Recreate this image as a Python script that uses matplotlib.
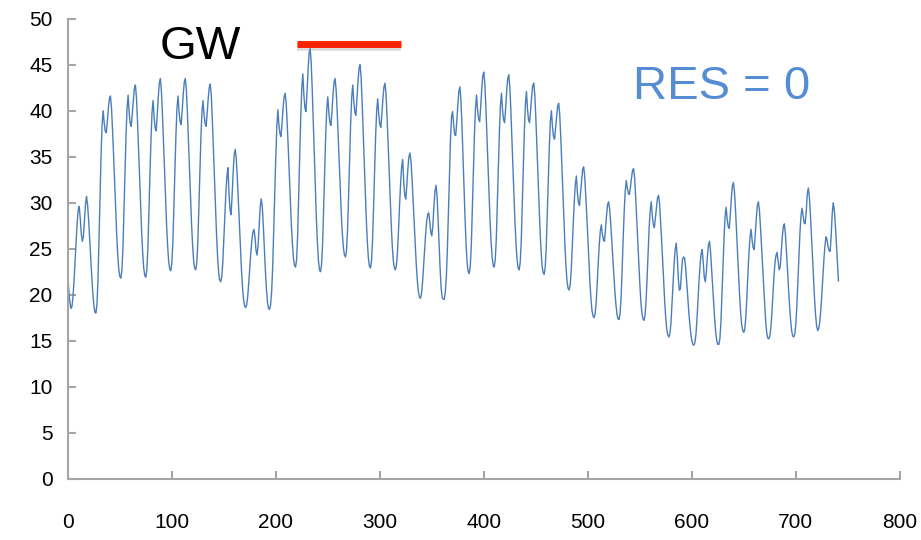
import matplotlib
matplotlib.use("Agg")
import matplotlib.pyplot as plt
import numpy as np

# Hourly values (GW), one row per day
gw_values = [
    22.1, 20.5, 19.2, 18.5, 18.7, 19.8, 21.5, 23.6, 25.8, 27.8, 29.2, 29.6, 28.3, 26.6, 25.8, 26.3, 28.0, 29.8, 30.7, 29.8, 28.2, 26.1, 24.1, 22.1,
    20.3, 18.9, 18.1, 18.0, 18.9, 21.5, 25.9, 30.8, 35.2, 38.5, 40.0, 38.7, 37.8, 37.6, 38.8, 40.2, 41.3, 41.6, 40.4, 38.0, 35.3, 32.3, 29.3, 26.6,
    24.4, 22.8, 22.0, 21.8, 22.6, 25.0, 29.0, 33.3, 37.3, 40.3, 41.7, 39.8, 38.6, 38.3, 39.7, 41.2, 42.4, 42.8, 41.5, 39.0, 36.1, 33.0, 29.8, 26.9,
    24.6, 22.9, 22.1, 21.9, 22.7, 25.0, 28.8, 33.0, 36.9, 39.8, 41.1, 39.3, 38.1, 37.8, 39.5, 41.5, 43.0, 43.5, 42.2, 39.7, 36.8, 33.7, 30.5, 27.6,
    25.3, 23.6, 22.8, 22.6, 23.4, 25.6, 29.4, 33.6, 37.4, 40.3, 41.6, 39.9, 38.8, 38.5, 40.0, 41.8, 43.1, 43.5, 42.3, 39.8, 36.8, 33.7, 30.6, 27.7,
    25.4, 23.7, 22.9, 22.7, 23.4, 25.6, 29.3, 33.4, 37.1, 39.8, 41.1, 39.6, 38.6, 38.3, 39.7, 41.3, 42.5, 42.9, 41.6, 39.0, 36.0, 32.8, 29.6, 26.6,
    24.2, 22.5, 21.6, 21.4, 21.9, 23.4, 25.9, 28.6, 31.1, 32.9, 33.8, 31.0, 29.2, 28.7, 30.8, 33.3, 35.2, 35.8, 34.8, 32.7, 30.3, 27.7, 25.1, 22.7,
    20.8, 19.5, 18.8, 18.6, 18.9, 19.8, 21.3, 23.0, 24.6, 25.9, 26.8, 27.1, 26.3, 24.8, 24.3, 25.4, 27.5, 29.5, 30.4, 29.6, 27.5, 25.0, 22.6, 20.6,
    19.2, 18.5, 18.4, 18.9, 20.3, 23.0, 26.8, 31.0, 35.0, 38.3, 40.1, 38.5, 37.5, 37.2, 38.6, 40.3, 41.5, 41.9, 40.8, 38.5, 35.9, 33.0, 30.2, 27.5,
    25.5, 23.9, 23.2, 23.0, 23.8, 26.4, 30.6, 35.2, 39.4, 42.5, 44.0, 41.7, 40.3, 39.9, 42.0, 44.4, 46.2, 46.8, 45.3, 42.4, 39.0, 35.4, 31.7, 28.3,
    25.7, 23.7, 22.7, 22.5, 23.3, 25.5, 29.3, 33.5, 37.3, 40.2, 41.5, 39.8, 38.7, 38.4, 39.9, 41.7, 43.1, 43.5, 42.3, 40.0, 37.3, 34.4, 31.5, 28.8,
    26.6, 25.1, 24.3, 24.1, 24.8, 27.1, 30.8, 34.9, 38.7, 41.5, 42.8, 41.0, 39.8, 39.5, 41.2, 43.1, 44.6, 45.0, 43.7, 41.0, 37.9, 34.6, 31.3, 28.2,
    25.8, 24.0, 23.1, 22.9, 23.6, 25.8, 29.5, 33.6, 37.3, 40.0, 41.3, 39.6, 38.5, 38.2, 39.6, 41.3, 42.6, 43.0, 41.8, 39.3, 36.5, 33.5, 30.4, 27.6,
    25.3, 23.7, 22.9, 22.7, 23.2, 24.6, 27.0, 29.7, 32.1, 33.9, 34.7, 32.3, 30.8, 30.4, 31.9, 33.7, 35.0, 35.4, 34.5, 32.6, 30.3, 28.0, 25.6, 23.4,
    21.7, 20.4, 19.8, 19.6, 20.0, 21.2, 22.9, 24.8, 26.5, 27.9, 28.7, 28.9, 28.0, 26.8, 26.4, 27.5, 29.5, 31.2, 31.9, 30.8, 28.3, 25.5, 22.8, 20.7,
    19.7, 19.5, 19.5, 20.3, 22.0, 25.0, 29.0, 33.3, 37.0, 39.4, 39.9, 38.5, 37.4, 37.3, 38.8, 40.6, 42.1, 42.6, 41.2, 38.4, 35.0, 31.5, 28.2, 25.4,
    23.4, 22.5, 22.3, 23.1, 25.4, 29.3, 33.6, 37.4, 40.3, 41.7, 40.1, 39.1, 38.8, 40.4, 42.3, 43.8, 44.2, 42.9, 40.4, 37.4, 34.2, 31.0, 28.1, 25.8,
    24.1, 23.2, 23.0, 23.8, 26.0, 29.8, 34.0, 37.7, 40.6, 41.9, 40.1, 39.0, 38.7, 40.3, 42.1, 43.5, 43.9, 42.6, 40.1, 37.1, 33.9, 30.7, 27.8, 25.5,
    23.8, 22.9, 22.7, 23.5, 25.8, 29.7, 34.0, 37.8, 40.7, 42.1, 40.2, 39.0, 38.7, 40.0, 41.5, 42.7, 43.0, 41.8, 39.3, 36.3, 33.2, 30.1, 27.2, 24.9,
    23.2, 22.4, 22.2, 22.9, 25.0, 28.6, 32.5, 36.1, 38.8, 40.0, 38.3, 37.2, 36.9, 38.1, 39.4, 40.5, 40.8, 39.6, 37.1, 34.3, 31.3, 28.2, 25.4, 23.1,
    21.5, 20.7, 20.5, 21.0, 22.5, 25.0, 27.7, 30.2, 32.0, 32.9, 31.1, 30.0, 29.7, 31.0, 32.4, 33.6, 33.9, 32.9, 30.9, 28.7, 26.2, 23.7, 21.4, 19.6,
    18.3, 17.7, 17.5, 17.9, 19.1, 21.1, 23.4, 25.4, 26.9, 27.6, 26.6, 26.0, 25.8, 27.1, 28.6, 29.8, 30.1, 29.3, 27.8, 26.0, 24.1, 22.2, 20.4, 19.0,
    17.9, 17.4, 17.3, 17.9, 19.7, 22.7, 26.1, 29.1, 31.3, 32.4, 31.6, 31.0, 30.9, 31.7, 32.7, 33.5, 33.7, 32.7, 30.7, 28.4, 25.9, 23.5, 21.2, 19.3,
    18.0, 17.4, 17.2, 17.7, 19.3, 21.8, 24.7, 27.3, 29.2, 30.1, 28.6, 27.6, 27.3, 28.4, 29.6, 30.5, 30.8, 29.9, 28.0, 25.9, 23.6, 21.3, 19.1, 17.4,
    16.2, 15.6, 15.4, 15.8, 17.0, 19.1, 21.3, 23.4, 24.9, 25.6, 24.2, 21.8, 20.5, 20.6, 22.3, 23.8, 24.1, 24.0, 23.0, 21.5, 19.9, 18.3, 16.9, 15.8,
    15.0, 14.6, 14.5, 14.8, 15.7, 17.4, 19.5, 21.6, 23.3, 24.5, 24.9, 23.5, 21.9, 21.4, 22.5, 24.2, 25.4, 25.8, 24.7, 22.9, 21.0, 19.1, 17.3, 15.9,
    15.0, 14.6, 14.6, 15.2, 17.0, 20.0, 23.2, 26.2, 28.5, 29.5, 28.2, 27.4, 27.2, 28.7, 30.5, 31.8, 32.2, 31.2, 29.3, 27.0, 24.5, 22.1, 19.8, 18.0,
    16.7, 16.1, 15.9, 16.3, 17.7, 19.9, 22.4, 24.6, 26.3, 27.1, 25.9, 25.1, 24.9, 26.5, 28.3, 29.7, 30.1, 29.2, 27.4, 25.3, 23.1, 20.9, 18.8, 17.1,
    15.9, 15.3, 15.2, 15.5, 16.4, 18.0, 20.0, 22.0, 23.5, 24.3, 24.6, 23.6, 22.7, 23.0, 24.6, 26.3, 27.4, 27.7, 26.6, 24.7, 22.7, 20.6, 18.8, 17.2,
    16.1, 15.5, 15.4, 15.7, 16.8, 18.8, 21.5, 24.3, 26.8, 28.6, 29.4, 28.6, 27.8, 27.7, 29.0, 30.9, 31.6, 30.7, 28.8, 26.6, 24.2, 21.8, 19.6, 17.8,
    16.6, 16.1, 16.3, 17.0, 18.3, 20.0, 22.0, 23.8, 25.3, 26.3, 26.0, 25.2, 24.8, 24.7, 26.4, 28.8, 30.0, 29.2, 27.6, 25.6, 23.5, 21.5,
]
hours = list(range(len(gw_values)))

x_ticks = [0, 100, 200, 300, 400, 500, 600, 700, 800]
y_ticks = [0, 5, 10, 15, 20, 25, 30, 35, 40, 45, 50]

# red marker bar (data units)
bar_x = [220.5, 320.0]
bar_y = [47.2, 47.2]

plt.rcParams['font.family'] = ['Liberation Sans', 'DejaVu Sans']

fig = plt.figure(figsize=(9.21, 5.40), dpi=100)
ax = fig.add_axes([0.0736, 0.1135, 0.977 - 0.0736, 0.9654 - 0.1135])

ax.plot(hours, gw_values, color='#4a7ebb', linewidth=1.0)

# red bar with soft shadow
ax.plot(bar_x, [v - 0.25 for v in bar_y], color='#999999', linewidth=5.5,
        alpha=0.35, solid_capstyle='butt', zorder=3)
ax.plot(bar_x, bar_y, color='#ff2200', linewidth=5.0, solid_capstyle='butt', zorder=4)

ax.text(127, 46.9, 'GW', fontsize=34, color='black', ha='center', va='center')
ax.text(629, 42.6, 'RES = 0', fontsize=34, color='#548dd4', ha='center', va='center')

ax.set_xlim(0, 800)
ax.set_ylim(0, 50)
ax.set_xticks(x_ticks)
ax.set_yticks(y_ticks)
ax.set_xticklabels([str(v) for v in x_ticks])
ax.set_yticklabels([str(v) for v in y_ticks])

for s in ['top', 'right']:
    ax.spines[s].set_visible(False)
for s in ['left', 'bottom']:
    ax.spines[s].set_color('#a6a6a6')
    ax.spines[s].set_linewidth(1.5)

ax.tick_params(axis='both', direction='in', length=6, width=1.5, color='#a6a6a6',
               labelsize=15, labelcolor='black')
ax.tick_params(axis='x', pad=25)
ax.tick_params(axis='y', pad=11)

fig.savefig('out.png', dpi=100)
